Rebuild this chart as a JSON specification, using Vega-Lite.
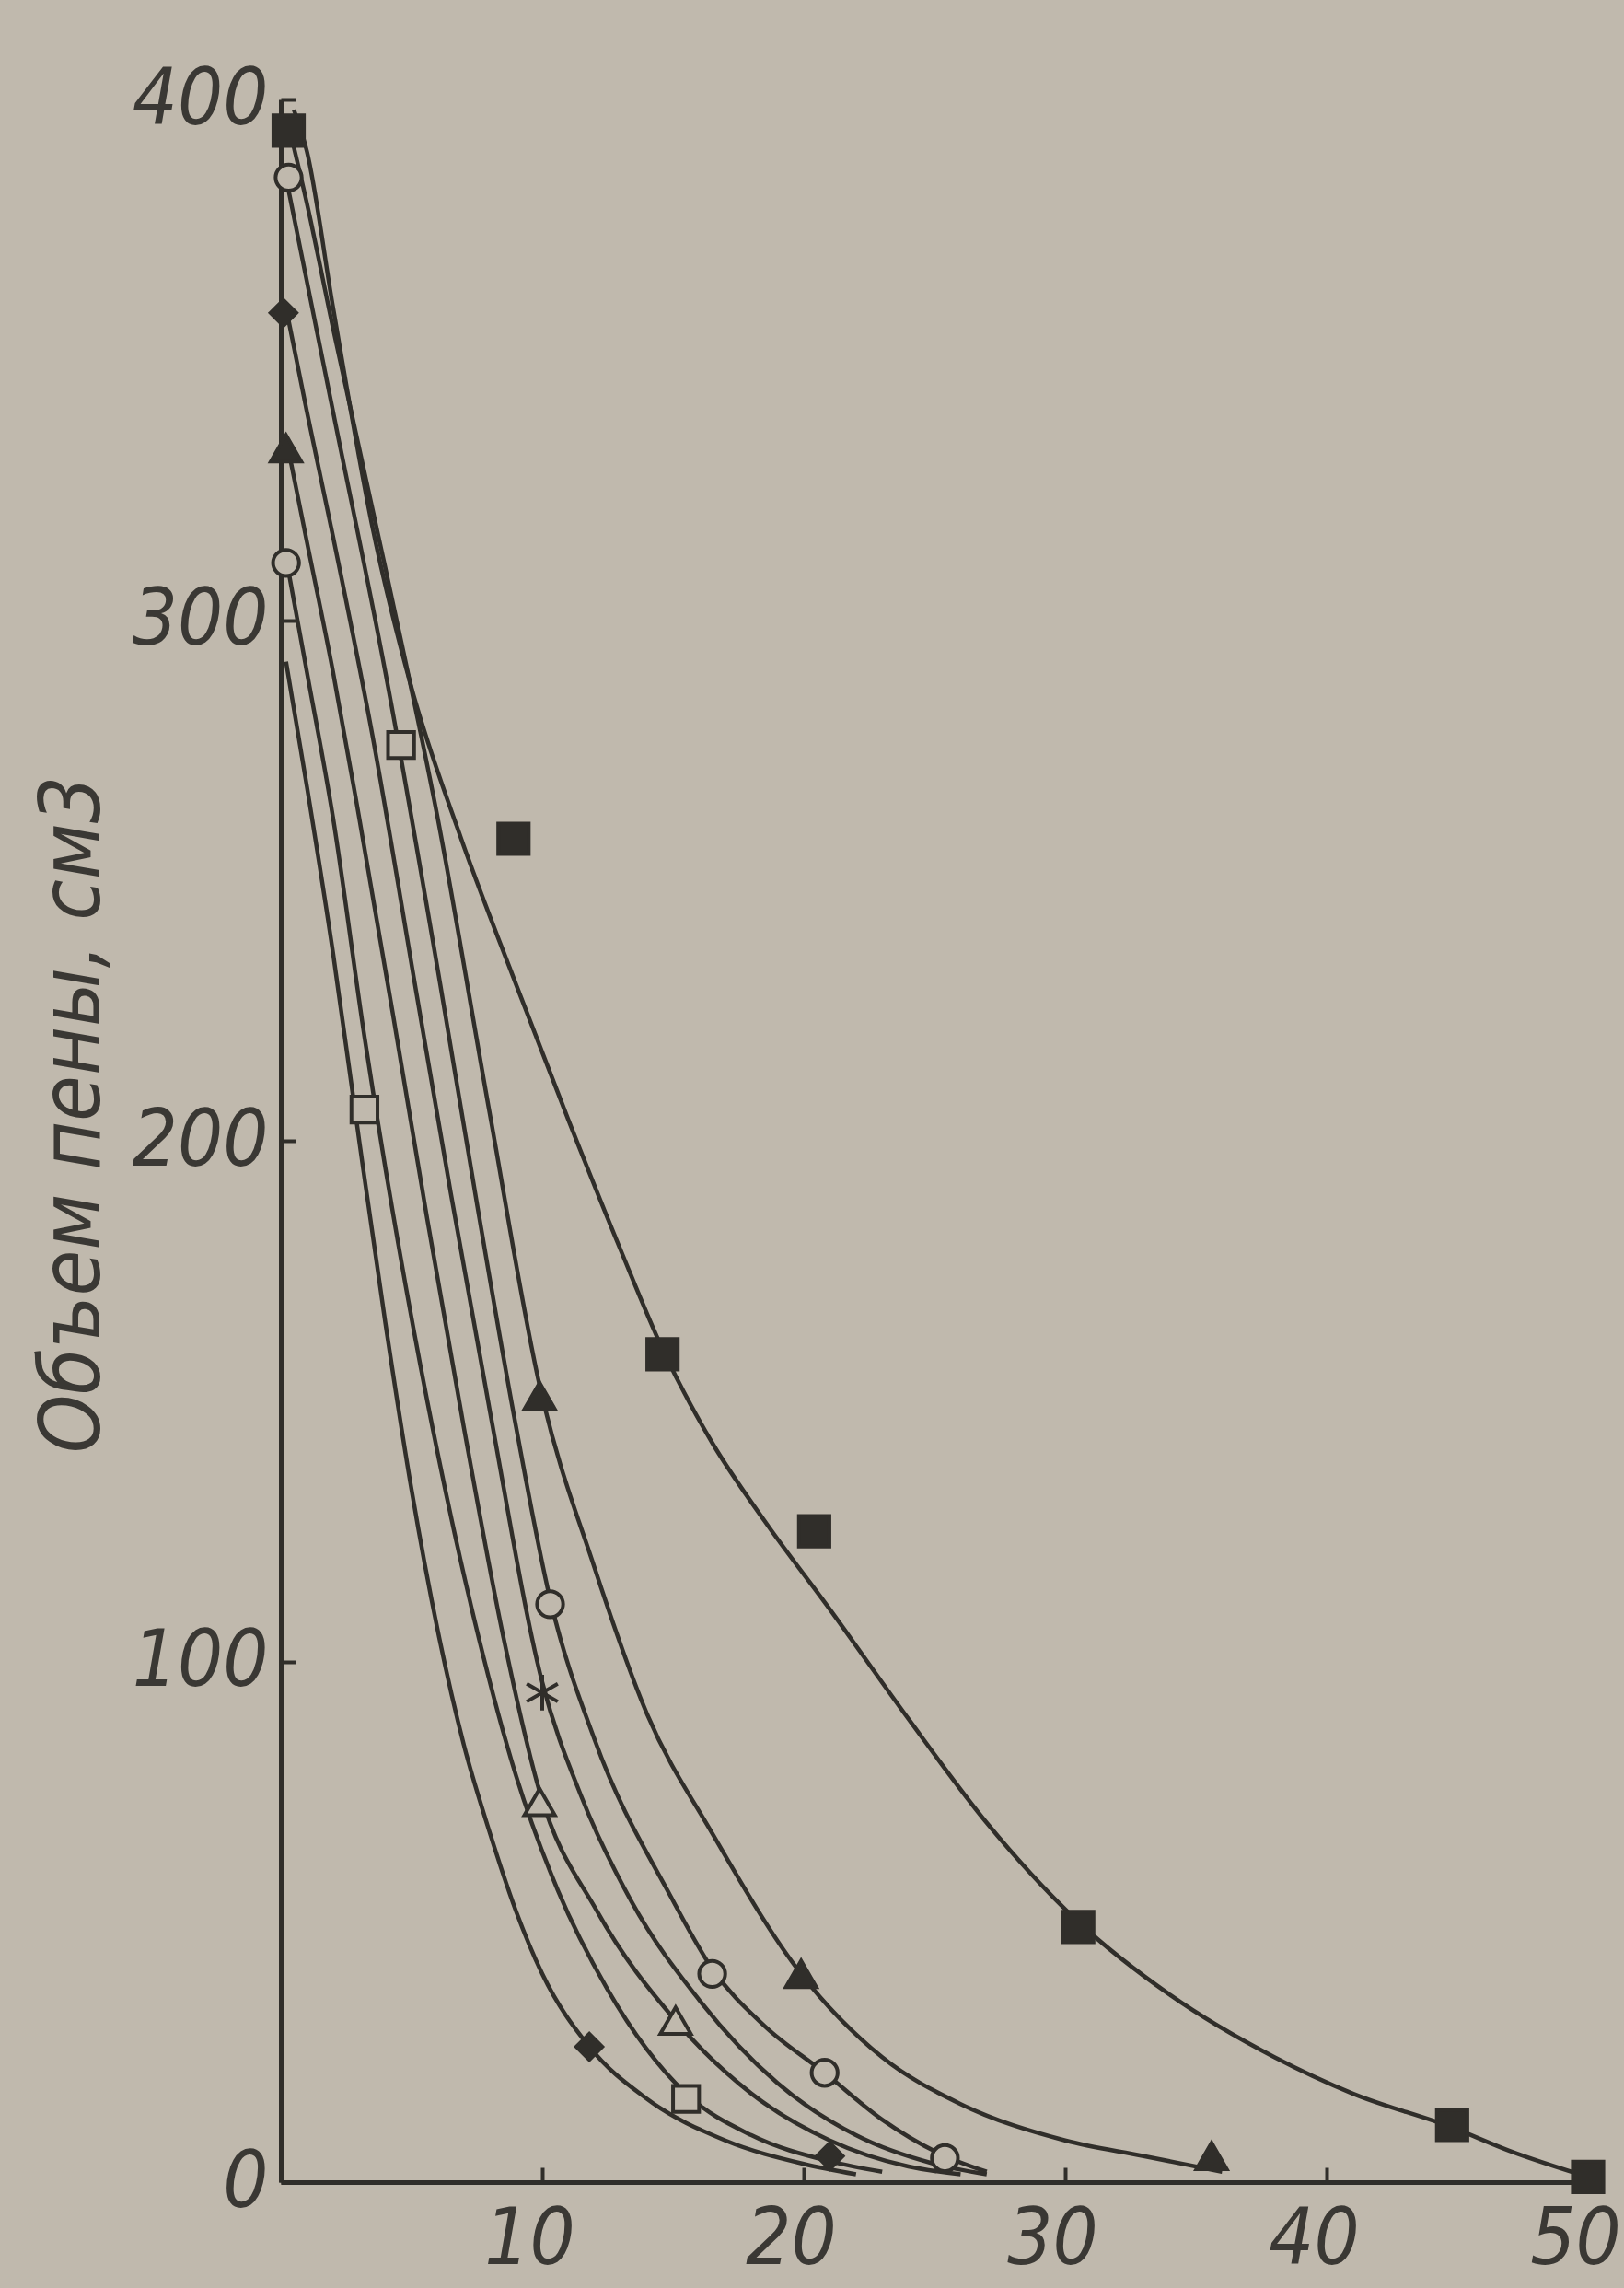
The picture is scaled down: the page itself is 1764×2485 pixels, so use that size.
{
  "$schema": "https://vega.github.io/schema/vega-lite/v6.json",
  "width": 1420,
  "height": 2262,
  "autosize": {"type": "none"},
  "padding": {"left": 305, "top": 108, "right": 39, "bottom": 115},
  "background": "#c0b9ad",
  "config": {
    "view": {"stroke": null},
    "axis": {
      "grid": false,
      "domainColor": "#302e2a",
      "domainWidth": 5,
      "tickColor": "#302e2a",
      "tickWidth": 4,
      "tickSize": -16,
      "labelFont": "DejaVu Sans Condensed, DejaVu Sans",
      "labelFontSize": 86,
      "labelFontStyle": "italic",
      "labelColor": "#3a3834",
      "titleFont": "DejaVu Sans Condensed, DejaVu Sans",
      "titleFontSize": 90,
      "titleFontStyle": "italic",
      "titleFontWeight": "normal",
      "titleColor": "#3a3834"
    }
  },
  "datasets": {
    "curves": [
      {"c": "A", "x": 0.2, "y": 292}, {"c": "A", "x": 1, "y": 268}, {"c": "A", "x": 2, "y": 236}, {"c": "A", "x": 3, "y": 200}, {"c": "A", "x": 4, "y": 165}, {"c": "A", "x": 5, "y": 133}, {"c": "A", "x": 6, "y": 106}, {"c": "A", "x": 7, "y": 84}, {"c": "A", "x": 8, "y": 67}, {"c": "A", "x": 9, "y": 52}, {"c": "A", "x": 10, "y": 40}, {"c": "A", "x": 11.8, "y": 26}, {"c": "A", "x": 14, "y": 16}, {"c": "A", "x": 17, "y": 8}, {"c": "A", "x": 20, "y": 3.5}, {"c": "A", "x": 22, "y": 1.5},
      {"c": "B", "x": 0.2, "y": 312}, {"c": "B", "x": 1, "y": 290}, {"c": "B", "x": 2, "y": 262}, {"c": "B", "x": 3.2, "y": 220}, {"c": "B", "x": 4.5, "y": 180}, {"c": "B", "x": 6, "y": 140}, {"c": "B", "x": 7.5, "y": 106}, {"c": "B", "x": 9, "y": 78}, {"c": "B", "x": 10.6, "y": 56}, {"c": "B", "x": 12.5, "y": 37}, {"c": "B", "x": 15.5, "y": 17}, {"c": "B", "x": 18, "y": 9}, {"c": "B", "x": 21, "y": 4}, {"c": "B", "x": 23, "y": 2},
      {"c": "C", "x": 0.2, "y": 335}, {"c": "C", "x": 1, "y": 315}, {"c": "C", "x": 2, "y": 290}, {"c": "C", "x": 3, "y": 262}, {"c": "C", "x": 4.3, "y": 224}, {"c": "C", "x": 5.6, "y": 185}, {"c": "C", "x": 7, "y": 145}, {"c": "C", "x": 8.5, "y": 105}, {"c": "C", "x": 9.9, "y": 75}, {"c": "C", "x": 12.1, "y": 52}, {"c": "C", "x": 15.1, "y": 31}, {"c": "C", "x": 18, "y": 17}, {"c": "C", "x": 21, "y": 8}, {"c": "C", "x": 24, "y": 3}, {"c": "C", "x": 26, "y": 1.5},
      {"c": "D", "x": 0.2, "y": 360}, {"c": "D", "x": 1, "y": 340}, {"c": "D", "x": 2, "y": 316}, {"c": "D", "x": 3.5, "y": 278}, {"c": "D", "x": 5.2, "y": 228}, {"c": "D", "x": 6.5, "y": 190}, {"c": "D", "x": 8, "y": 148}, {"c": "D", "x": 10, "y": 96}, {"c": "D", "x": 11.5, "y": 74}, {"c": "D", "x": 13.4, "y": 54}, {"c": "D", "x": 16, "y": 35}, {"c": "D", "x": 19, "y": 19}, {"c": "D", "x": 22, "y": 9}, {"c": "D", "x": 25, "y": 3.5}, {"c": "D", "x": 27, "y": 1.5},
      {"c": "E", "x": 0.2, "y": 385}, {"c": "E", "x": 1, "y": 365}, {"c": "E", "x": 2, "y": 340}, {"c": "E", "x": 4, "y": 290}, {"c": "E", "x": 6.1, "y": 230}, {"c": "E", "x": 7.5, "y": 188}, {"c": "E", "x": 9, "y": 145}, {"c": "E", "x": 10.3, "y": 112}, {"c": "E", "x": 12, "y": 85}, {"c": "E", "x": 14.9, "y": 55}, {"c": "E", "x": 16.5, "y": 41}, {"c": "E", "x": 18.5, "y": 30}, {"c": "E", "x": 20.8, "y": 21}, {"c": "E", "x": 23, "y": 12}, {"c": "E", "x": 25.4, "y": 5}, {"c": "E", "x": 27, "y": 2},
      {"c": "F", "x": 0.3, "y": 395}, {"c": "F", "x": 1, "y": 380}, {"c": "F", "x": 2, "y": 356}, {"c": "F", "x": 4, "y": 310}, {"c": "F", "x": 6, "y": 262}, {"c": "F", "x": 8, "y": 205}, {"c": "F", "x": 9.9, "y": 153}, {"c": "F", "x": 12, "y": 118}, {"c": "F", "x": 14, "y": 90}, {"c": "F", "x": 16.5, "y": 67}, {"c": "F", "x": 19.9, "y": 40}, {"c": "F", "x": 23, "y": 24}, {"c": "F", "x": 26, "y": 15}, {"c": "F", "x": 30, "y": 8}, {"c": "F", "x": 33, "y": 5}, {"c": "F", "x": 36, "y": 2},
      {"c": "G", "x": 0.5, "y": 398}, {"c": "G", "x": 1, "y": 390}, {"c": "G", "x": 2, "y": 360}, {"c": "G", "x": 3.5, "y": 318}, {"c": "G", "x": 5, "y": 287}, {"c": "G", "x": 6.9, "y": 258}, {"c": "G", "x": 9, "y": 230}, {"c": "G", "x": 11, "y": 204}, {"c": "G", "x": 13, "y": 179}, {"c": "G", "x": 14.6, "y": 160}, {"c": "G", "x": 16.5, "y": 142}, {"c": "G", "x": 18.5, "y": 127}, {"c": "G", "x": 21, "y": 110}, {"c": "G", "x": 24, "y": 89}, {"c": "G", "x": 27, "y": 69}, {"c": "G", "x": 30.5, "y": 50}, {"c": "G", "x": 34, "y": 36}, {"c": "G", "x": 38, "y": 24}, {"c": "G", "x": 41, "y": 17}, {"c": "G", "x": 44.8, "y": 10.5}, {"c": "G", "x": 47, "y": 6}, {"c": "G", "x": 50, "y": 1}
    ],
    "marks": [
      {"m": "sq", "x": 0.3, "y": 394}, {"m": "sq", "x": 8.9, "y": 258}, {"m": "sq", "x": 14.6, "y": 159}, {"m": "sq", "x": 20.4, "y": 125}, {"m": "sq", "x": 30.5, "y": 49}, {"m": "sq", "x": 44.8, "y": 11}, {"m": "sq", "x": 50, "y": 1},
      {"m": "tri", "x": 0.2, "y": 333}, {"m": "tri", "x": 9.9, "y": 151}, {"m": "tri", "x": 19.9, "y": 40}, {"m": "tri", "x": 35.6, "y": 5},
      {"m": "circ", "x": 0.3, "y": 385}, {"m": "circ", "x": 0.2, "y": 311}, {"m": "circ", "x": 10.3, "y": 111}, {"m": "circ", "x": 16.5, "y": 40}, {"m": "circ", "x": 20.8, "y": 21}, {"m": "circ", "x": 25.4, "y": 4.6},
      {"m": "star", "x": 10, "y": 94},
      {"m": "otri", "x": 9.9, "y": 73}, {"m": "otri", "x": 15.1, "y": 31},
      {"m": "osq", "x": 3.2, "y": 206}, {"m": "osq", "x": 4.6, "y": 276}, {"m": "osq", "x": 15.5, "y": 16},
      {"m": "dia", "x": 11.8, "y": 26}, {"m": "dia", "x": 21, "y": 5}, {"m": "dia", "x": 0.1, "y": 359}
    ]
  },
  "layer": [
    {
      "data": {"name": "curves"},
      "mark": {"type": "line", "interpolate": "monotone", "color": "#302e2a", "strokeWidth": 4.5},
      "encoding": {
        "x": {"field": "x", "type": "quantitative", "scale": {"domain": [0, 50], "nice": false},
          "axis": {"values": [0, 10, 20, 30, 40, 50], "title": null, "labelExpr": "datum.value == 0 ? '' : datum.label", "labelPadding": 36, "labelAlign": "center", "labelOffset": -14}},
        "y": {"field": "y", "type": "quantitative", "scale": {"domain": [0, 400], "nice": false},
          "axis": {"values": [0, 100, 200, 300, 400], "title": "Объем пены, см3", "titleX": -225, "titleY": 1102, "titleAlign": "center", "titleBaseline": "middle", "labelPadding": 30, "labelBaseline": "middle"}},
        "detail": {"field": "c", "type": "nominal"}
      }
    },
    {
      "data": {"name": "marks"},
      "mark": {"type": "point", "strokeWidth": 4, "stroke": "#302e2a", "opacity": 1},
      "encoding": {
        "x": {"field": "x", "type": "quantitative"},
        "y": {"field": "y", "type": "quantitative"},
        "shape": {"field": "m", "type": "nominal", "legend": null,
          "scale": {"domain": ["sq", "tri", "circ", "star", "otri", "osq", "dia"],
            "range": ["square", "triangle-up", "circle", "M0,-1V1M-0.87,-0.5L0.87,0.5M-0.87,0.5L0.87,-0.5", "triangle-up", "square", "diamond"]}},
        "size": {"condition": [
          {"test": "datum.m == 'tri' || datum.m == 'otri'", "value": 1100},
          {"test": "datum.m == 'sq'", "value": 1100},
          {"test": "datum.m == 'star'", "value": 1500}], "value": 800},
        "fill": {"condition": {"test": "indexof(['sq','tri','dia'], datum.m) >= 0", "value": "#302e2a"}, "value": "#c0b9ad"}
      }
    }
  ]
}
